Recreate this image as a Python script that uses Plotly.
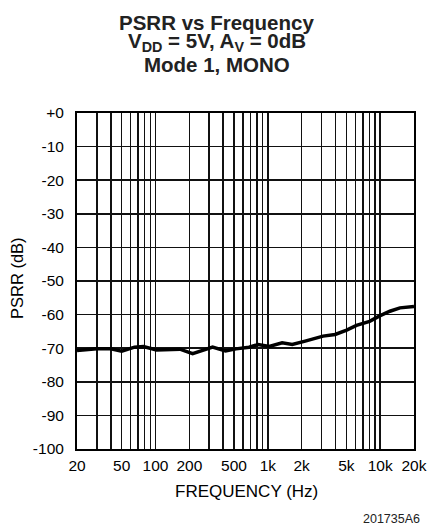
import plotly.graph_objects as go

freq_hz = [20, 30, 40, 50, 65, 78, 102, 165, 190, 214, 322, 420, 520, 680, 820, 1030,
           1340, 1650, 2150, 3100, 3970, 5030, 6150, 8050, 9900, 12200, 15000, 20000]
psrr_db = [-70.7, -70.2, -70.2, -70.9, -69.7, -69.5, -70.5, -70.3, -71.0, -71.6, -69.7, -70.8,
           -70.2, -69.7, -68.9, -69.5, -68.4, -68.9, -67.9, -66.4, -65.9, -64.6, -63.2, -62.0,
           -60.4, -59.0, -58.0, -57.6]

x_grid = [20, 30, 40, 50, 60, 70, 80, 90, 100, 200, 300, 400, 500, 600, 700, 800, 900,
          1000, 2000, 3000, 4000, 5000, 6000, 7000, 8000, 9000, 10000, 20000]
x_labels = {20: "20", 50: "50", 100: "100", 200: "200", 500: "500", 1000: "1k",
            2000: "2k", 5000: "5k", 10000: "10k", 20000: "20k"}
y_ticks = [0, -10, -20, -30, -40, -50, -60, -70, -80, -90, -100]
y_labels = ["+0", "-10", "-20", "-30", "-40", "-50", "-60", "-70", "-80", "-90", "-100"]

title_lines = ["PSRR vs Frequency", "V<sub>DD</sub> = 5V, A<sub>V</sub> = 0dB", "Mode 1, MONO"]

font_family = "Liberation Sans, Arial, Helvetica, sans-serif"

fig = go.Figure()
fig.add_trace(go.Scatter(x=freq_hz, y=psrr_db, mode="lines",
                         line=dict(color="black", width=3.5), hoverinfo="skip"))

fig.update_layout(
    width=430, height=529,
    margin=dict(l=77, r=16, t=113, b=80, autoexpand=False),
    paper_bgcolor="white", plot_bgcolor="white",
    showlegend=False,
    font=dict(family=font_family, color="black", size=15.5),
)
fig.update_xaxes(
    type="log", range=[1.30103, 4.30103],
    tickvals=x_grid, ticktext=[x_labels.get(v, "") for v in x_grid],
    showgrid=True, gridcolor="#111", gridwidth=1.5,
    showline=True, linecolor="black", linewidth=2, mirror=True,
    ticks="", tickfont=dict(size=15.5), zeroline=False, ticklabelstandoff=1,
)
fig.update_yaxes(
    range=[-100, 0], tickvals=y_ticks, ticktext=y_labels,
    showgrid=True, gridcolor="#111", gridwidth=1.5,
    showline=True, linecolor="black", linewidth=2, mirror=True,
    ticks="", tickfont=dict(size=15.5), zeroline=False, ticklabelstandoff=8,
)

title_y = [1.270, 1.210, 1.144]
for txt, yy in zip(title_lines, title_y):
    fig.add_annotation(text="<b>" + txt + "</b>", xref="paper", yref="paper",
                       x=0.414, y=yy, xanchor="center", yanchor="middle", showarrow=False,
                       font=dict(size=20.5, color="#222"))

fig.add_annotation(text="FREQUENCY (Hz)", xref="paper", yref="paper", x=0.504, y=-0.125,
                   xanchor="center", yanchor="middle", showarrow=False,
                   font=dict(size=17))
fig.add_annotation(text="PSRR (dB)", xref="paper", yref="paper", x=-0.178, y=0.509,
                   xanchor="center", yanchor="middle", showarrow=False, textangle=-90,
                   font=dict(size=16.5))
fig.add_annotation(text="201735A6", xref="paper", yref="paper", x=1.024, y=-0.208,
                   xanchor="right", yanchor="middle", showarrow=False,
                   font=dict(size=12.5, color="#222"))

fig.write_html("out.html",
               config={"displayModeBar": False, "staticPlot": True},
               post_script="document.body.style.margin='0';document.body.style.overflow='hidden';")
